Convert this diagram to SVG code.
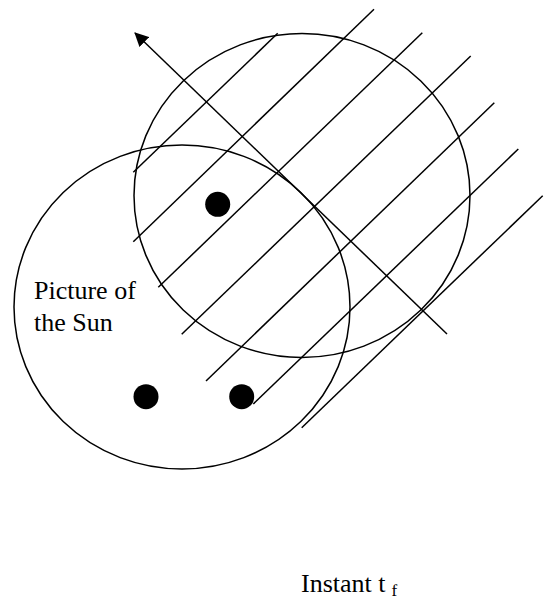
<svg xmlns="http://www.w3.org/2000/svg" width="544" height="607" viewBox="0 0 544 607">
  <defs>
    <marker id="arrow" markerWidth="14" markerHeight="14" refX="13" refY="7" orient="auto" markerUnits="userSpaceOnUse">
      <path d="M0,0 L14,7 L0,14 Z" fill="#000"/>
    </marker>
    <style>
      .ln { stroke: #000; stroke-width: 1.5; fill: none; }
      .dot { fill: #000; }
    </style>
  </defs>
  <rect width="544" height="607" fill="#fff"/>
  <g id="sun-picture">
    <ellipse class="ln" cx="182" cy="307" rx="168" ry="162"/>
    <text x="34" y="299" font-family="'Liberation Serif', 'DejaVu Serif', serif" font-size="26" fill="#000">Picture of</text>
    <text x="34" y="331" font-family="'Liberation Serif', 'DejaVu Serif', serif" font-size="26" fill="#000">the Sun</text>
  </g>
  <g id="shifted-disk">
    <ellipse class="ln" cx="302" cy="195.5" rx="168" ry="162"/>
  </g>
  <g id="spots">
    <circle class="dot" cx="217.7" cy="204.3" r="12.5"/>
    <circle class="dot" cx="146" cy="396.7" r="12.5"/>
    <circle class="dot" cx="241.7" cy="396.7" r="12.5"/>
  </g>
  <g id="connectors">
    <line class="ln" x1="447" y1="334" x2="135" y2="33" marker-end="url(#arrow)"/>
    <line class="ln" x1="133.3" y1="172.3" x2="277.7" y2="33.3"/>
    <line class="ln" x1="133.3" y1="241.7" x2="374" y2="9.3"/>
    <line class="ln" x1="158.3" y1="287.3" x2="422.3" y2="32.7"/>
    <line class="ln" x1="181.7" y1="334.3" x2="470.7" y2="56"/>
    <line class="ln" x1="206" y1="381" x2="494.3" y2="102.7"/>
    <line class="ln" x1="253.3" y1="404" x2="518.3" y2="149"/>
    <line class="ln" x1="301.7" y1="427.7" x2="542.7" y2="195.7"/>
  </g>
  <g id="caption">
    <text x="301" y="592" font-family="'Liberation Serif', 'DejaVu Serif', serif" font-size="26" fill="#000">Instant t<tspan dx="6" dy="4" font-size="17">f</tspan></text>
  </g>
</svg>
